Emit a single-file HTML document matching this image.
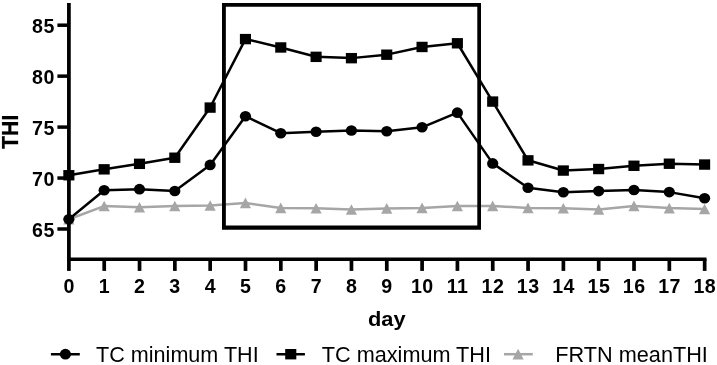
<!DOCTYPE html>
<html><head><meta charset="utf-8"><title>THI chart</title>
<style>html,body{margin:0;padding:0;background:#fff}svg{display:block}</style></head>
<body>
<svg width="717" height="365" viewBox="0 0 717 365">
<rect width="717" height="365" fill="#fff"/>
<polyline points="68.85,219.22 104.17,206.07 139.49,207.30 174.81,206.07 210.13,205.56 245.45,203.02 280.77,207.91 316.09,208.32 351.41,209.54 386.73,208.52 422.05,207.91 457.37,206.07 492.69,205.97 528.01,207.91 563.33,208.32 598.65,209.44 633.97,205.97 669.29,208.11 704.61,209.03" fill="none" stroke="#a6a6a6" stroke-width="2.5" stroke-linejoin="round"/>
<polygon points="68.85,213.82 74.45,224.52 63.25,224.52" fill="#a6a6a6"/>
<polygon points="104.17,200.67 109.77,211.37 98.57,211.37" fill="#a6a6a6"/>
<polygon points="139.49,201.90 145.09,212.60 133.89,212.60" fill="#a6a6a6"/>
<polygon points="174.81,200.67 180.41,211.37 169.21,211.37" fill="#a6a6a6"/>
<polygon points="210.13,200.16 215.73,210.86 204.53,210.86" fill="#a6a6a6"/>
<polygon points="245.45,197.62 251.05,208.32 239.85,208.32" fill="#a6a6a6"/>
<polygon points="280.77,202.51 286.37,213.21 275.17,213.21" fill="#a6a6a6"/>
<polygon points="316.09,202.92 321.69,213.62 310.49,213.62" fill="#a6a6a6"/>
<polygon points="351.41,204.14 357.01,214.84 345.81,214.84" fill="#a6a6a6"/>
<polygon points="386.73,203.12 392.33,213.82 381.13,213.82" fill="#a6a6a6"/>
<polygon points="422.05,202.51 427.65,213.21 416.45,213.21" fill="#a6a6a6"/>
<polygon points="457.37,200.67 462.97,211.37 451.77,211.37" fill="#a6a6a6"/>
<polygon points="492.69,200.57 498.29,211.27 487.09,211.27" fill="#a6a6a6"/>
<polygon points="528.01,202.51 533.61,213.21 522.41,213.21" fill="#a6a6a6"/>
<polygon points="563.33,202.92 568.93,213.62 557.73,213.62" fill="#a6a6a6"/>
<polygon points="598.65,204.04 604.25,214.74 593.05,214.74" fill="#a6a6a6"/>
<polygon points="633.97,200.57 639.57,211.27 628.37,211.27" fill="#a6a6a6"/>
<polygon points="669.29,202.71 674.89,213.41 663.69,213.41" fill="#a6a6a6"/>
<polygon points="704.61,203.63 710.21,214.33 699.01,214.33" fill="#a6a6a6"/>
<path fill-rule="evenodd" fill="#000" d="M222,2.9 H481 V229.8 H222 Z M225.85,6.75 V225.6 H477.3 V6.75 Z"/>
<g stroke="#000" fill="none">
<path stroke-width="3.75" d="M68.90,3 V259.3"/>
<path stroke-width="3.6" d="M67.05,259.3 H706.51"/>
<path stroke-width="3.5" d="M57.4,229.00 H68.85"/>
<path stroke-width="3.5" d="M57.4,178.05 H68.85"/>
<path stroke-width="3.5" d="M57.4,127.10 H68.85"/>
<path stroke-width="3.5" d="M57.4,76.15 H68.85"/>
<path stroke-width="3.5" d="M57.4,25.20 H68.85"/>
<path stroke-width="3.7" d="M68.90,259.3 V270.9"/>
<path stroke-width="3.7" d="M104.22,259.3 V270.9"/>
<path stroke-width="3.7" d="M139.54,259.3 V270.9"/>
<path stroke-width="3.7" d="M174.86,259.3 V270.9"/>
<path stroke-width="3.7" d="M210.18,259.3 V270.9"/>
<path stroke-width="3.7" d="M245.50,259.3 V270.9"/>
<path stroke-width="3.7" d="M280.82,259.3 V270.9"/>
<path stroke-width="3.7" d="M316.14,259.3 V270.9"/>
<path stroke-width="3.7" d="M351.46,259.3 V270.9"/>
<path stroke-width="3.7" d="M386.78,259.3 V270.9"/>
<path stroke-width="3.7" d="M422.10,259.3 V270.9"/>
<path stroke-width="3.7" d="M457.42,259.3 V270.9"/>
<path stroke-width="3.7" d="M492.74,259.3 V270.9"/>
<path stroke-width="3.7" d="M528.06,259.3 V270.9"/>
<path stroke-width="3.7" d="M563.38,259.3 V270.9"/>
<path stroke-width="3.7" d="M598.70,259.3 V270.9"/>
<path stroke-width="3.7" d="M634.02,259.3 V270.9"/>
<path stroke-width="3.7" d="M669.34,259.3 V270.9"/>
<path stroke-width="3.7" d="M704.66,259.3 V270.9"/>
</g>
<polyline points="68.85,175.20 104.17,169.29 139.49,163.79 174.81,157.67 210.13,107.54 245.45,39.06 280.77,47.42 316.09,56.79 351.41,58.12 386.73,54.65 422.05,46.91 457.37,43.24 492.69,101.53 528.01,160.32 563.33,170.51 598.65,168.98 633.97,165.72 669.29,163.68 704.61,164.50" fill="none" stroke="#000" stroke-width="2.5" stroke-linejoin="round"/>
<polyline points="68.85,219.22 104.17,190.28 139.49,189.16 174.81,190.99 210.13,164.91 245.45,116.20 280.77,133.22 316.09,131.79 351.41,130.46 386.73,131.18 422.05,127.31 457.37,112.63 492.69,163.38 528.01,187.73 563.33,192.22 598.65,191.10 633.97,189.97 669.29,192.11 704.61,198.23" fill="none" stroke="#000" stroke-width="2.5" stroke-linejoin="round"/>
<rect x="63.30" y="170.05" width="11.1" height="10.4" fill="#000"/>
<rect x="98.62" y="164.14" width="11.1" height="10.4" fill="#000"/>
<rect x="133.94" y="158.64" width="11.1" height="10.4" fill="#000"/>
<rect x="169.26" y="152.52" width="11.1" height="10.4" fill="#000"/>
<rect x="204.58" y="102.39" width="11.1" height="10.4" fill="#000"/>
<rect x="239.90" y="33.91" width="11.1" height="10.4" fill="#000"/>
<rect x="275.22" y="42.27" width="11.1" height="10.4" fill="#000"/>
<rect x="310.54" y="51.64" width="11.1" height="10.4" fill="#000"/>
<rect x="345.86" y="52.97" width="11.1" height="10.4" fill="#000"/>
<rect x="381.18" y="49.50" width="11.1" height="10.4" fill="#000"/>
<rect x="416.50" y="41.76" width="11.1" height="10.4" fill="#000"/>
<rect x="451.82" y="38.09" width="11.1" height="10.4" fill="#000"/>
<rect x="487.14" y="96.38" width="11.1" height="10.4" fill="#000"/>
<rect x="522.46" y="155.17" width="11.1" height="10.4" fill="#000"/>
<rect x="557.78" y="165.36" width="11.1" height="10.4" fill="#000"/>
<rect x="593.10" y="163.83" width="11.1" height="10.4" fill="#000"/>
<rect x="628.42" y="160.57" width="11.1" height="10.4" fill="#000"/>
<rect x="663.74" y="158.53" width="11.1" height="10.4" fill="#000"/>
<rect x="699.06" y="159.35" width="11.1" height="10.4" fill="#000"/>
<ellipse cx="68.85" cy="219.22" rx="5.6" ry="5.3" fill="#000"/>
<ellipse cx="104.17" cy="190.28" rx="5.6" ry="5.3" fill="#000"/>
<ellipse cx="139.49" cy="189.16" rx="5.6" ry="5.3" fill="#000"/>
<ellipse cx="174.81" cy="190.99" rx="5.6" ry="5.3" fill="#000"/>
<ellipse cx="210.13" cy="164.91" rx="5.6" ry="5.3" fill="#000"/>
<ellipse cx="245.45" cy="116.20" rx="5.6" ry="5.3" fill="#000"/>
<ellipse cx="280.77" cy="133.22" rx="5.6" ry="5.3" fill="#000"/>
<ellipse cx="316.09" cy="131.79" rx="5.6" ry="5.3" fill="#000"/>
<ellipse cx="351.41" cy="130.46" rx="5.6" ry="5.3" fill="#000"/>
<ellipse cx="386.73" cy="131.18" rx="5.6" ry="5.3" fill="#000"/>
<ellipse cx="422.05" cy="127.31" rx="5.6" ry="5.3" fill="#000"/>
<ellipse cx="457.37" cy="112.63" rx="5.6" ry="5.3" fill="#000"/>
<ellipse cx="492.69" cy="163.38" rx="5.6" ry="5.3" fill="#000"/>
<ellipse cx="528.01" cy="187.73" rx="5.6" ry="5.3" fill="#000"/>
<ellipse cx="563.33" cy="192.22" rx="5.6" ry="5.3" fill="#000"/>
<ellipse cx="598.65" cy="191.10" rx="5.6" ry="5.3" fill="#000"/>
<ellipse cx="633.97" cy="189.97" rx="5.6" ry="5.3" fill="#000"/>
<ellipse cx="669.29" cy="192.11" rx="5.6" ry="5.3" fill="#000"/>
<ellipse cx="704.61" cy="198.23" rx="5.6" ry="5.3" fill="#000"/>
<g font-family="'Liberation Sans', Arial, sans-serif" font-weight="bold" font-size="19.6" fill="#000">
<text x="55.3" y="236.70" text-anchor="end" letter-spacing="0.8">65</text>
<text x="55.3" y="185.75" text-anchor="end" letter-spacing="0.8">70</text>
<text x="55.3" y="134.80" text-anchor="end" letter-spacing="0.8">75</text>
<text x="55.3" y="83.85" text-anchor="end" letter-spacing="0.8">80</text>
<text x="55.3" y="32.90" text-anchor="end" letter-spacing="0.8">85</text>
<text x="68.85" y="292.5" text-anchor="middle">0</text>
<text x="104.17" y="292.5" text-anchor="middle">1</text>
<text x="139.49" y="292.5" text-anchor="middle">2</text>
<text x="174.81" y="292.5" text-anchor="middle">3</text>
<text x="210.13" y="292.5" text-anchor="middle">4</text>
<text x="245.45" y="292.5" text-anchor="middle">5</text>
<text x="280.77" y="292.5" text-anchor="middle">6</text>
<text x="316.09" y="292.5" text-anchor="middle">7</text>
<text x="351.41" y="292.5" text-anchor="middle">8</text>
<text x="386.73" y="292.5" text-anchor="middle">9</text>
<text x="422.30" y="292.5" text-anchor="middle" letter-spacing="0.5">10</text>
<text x="457.62" y="292.5" text-anchor="middle" letter-spacing="0.5">11</text>
<text x="492.94" y="292.5" text-anchor="middle" letter-spacing="0.5">12</text>
<text x="528.26" y="292.5" text-anchor="middle" letter-spacing="0.5">13</text>
<text x="563.58" y="292.5" text-anchor="middle" letter-spacing="0.5">14</text>
<text x="598.90" y="292.5" text-anchor="middle" letter-spacing="0.5">15</text>
<text x="634.22" y="292.5" text-anchor="middle" letter-spacing="0.5">16</text>
<text x="669.54" y="292.5" text-anchor="middle" letter-spacing="0.5">17</text>
<text x="704.86" y="292.5" text-anchor="middle" letter-spacing="0.5">18</text>
</g>
<g font-family="'Liberation Sans', Arial, sans-serif" font-weight="bold" fill="#000">
<text x="386.8" y="325.5" text-anchor="middle" font-size="20.3" textLength="37.6" lengthAdjust="spacingAndGlyphs">day</text>
<text transform="translate(18.0,131.8) rotate(-90)" text-anchor="middle" font-size="23.2" text-rendering="geometricPrecision" textLength="34.3" stroke="#000" stroke-width="0.25" lengthAdjust="spacingAndGlyphs">THI</text>
</g>
<g font-family="'Liberation Sans', Arial, sans-serif" font-size="22" fill="#000">
<text x="96.1" y="362.0" textLength="162.6" lengthAdjust="spacingAndGlyphs">TC minimum THI</text>
<text x="321.8" y="362.0" textLength="169.2" lengthAdjust="spacingAndGlyphs">TC maximum THI</text>
<text x="555.3" y="362.0" textLength="152.6" lengthAdjust="spacingAndGlyphs">FRTN meanTHI</text>
</g>
<path d="M50.9,354.2 H79.8 M276.5,354.2 H304.9" stroke="#000" stroke-width="2.5"/>
<path d="M504,354.2 H532.8" stroke="#a6a6a6" stroke-width="2.5"/>
<ellipse cx="65.4" cy="354.2" rx="5.6" ry="5.4" fill="#000"/>
<rect x="285.2" y="349.0" width="11.1" height="10.4" fill="#000"/>
<polygon points="518.1,348.7 523.7,359.5 512.5,359.5" fill="#a6a6a6"/>
</svg>
</body></html>
